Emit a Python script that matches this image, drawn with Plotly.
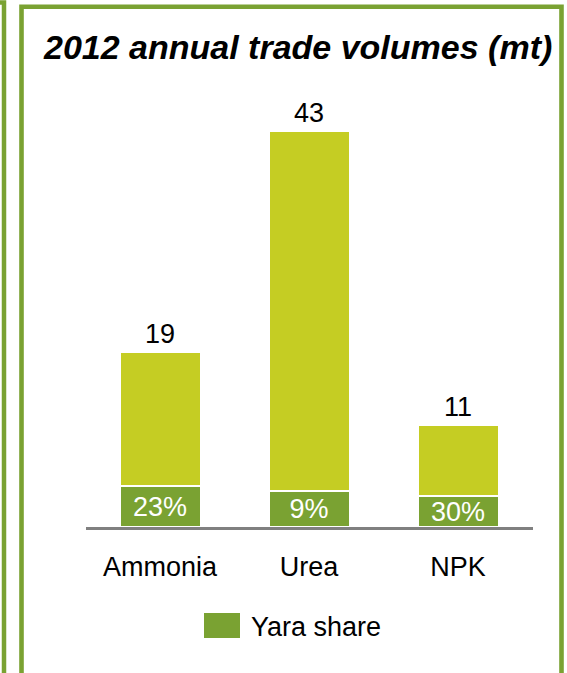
import plotly.graph_objects as go

# ---- data ----
categories = ["Ammonia", "Urea", "NPK"]
total_volumes = [19, 43, 11]          # mt, 2012 annual trade volumes
yara_share_pct = [23, 9, 30]          # Yara share, %

yara_volumes = [t * s / 100 for t, s in zip(total_volumes, yara_share_pct)]
rest_volumes = [t - y for t, y in zip(total_volumes, yara_volumes)]

# ---- styling ----
W, H = 567, 673
DARK_GREEN = "#7AA232"
LIME = "#C5CD23"
FONT = "Liberation Sans, Arial, sans-serif"

def px(x):
    return x / W

def py(y):
    return 1 - y / H

fig = go.Figure()

fig.add_trace(go.Bar(
    x=categories, y=yara_volumes, name="Yara share",
    marker=dict(color=DARK_GREEN, line=dict(color="white", width=2)),
    text=[f"{s}%" for s in yara_share_pct],
    textposition="inside", insidetextanchor="middle",
    constraintext="none",
    textfont=dict(color="white", size=27, family=FONT),
    width=0.55, cliponaxis=False, showlegend=False,
))
fig.add_trace(go.Bar(
    x=categories, y=rest_volumes, name="Total",
    marker=dict(color=LIME, line=dict(color="white", width=2)),
    text=[str(t) for t in total_volumes],
    textposition="outside", constraintext="none",
    outsidetextfont=dict(color="black", size=27, family=FONT),
    width=0.55, cliponaxis=False, showlegend=False,
))

shapes = [
    # left neighbour panel border
    dict(type="rect", xref="paper", yref="paper",
         x0=px(-100), x1=px(4), y0=py(2.5), y1=py(720),
         line=dict(color=DARK_GREEN, width=4.5), layer="above"),
    # main panel border
    dict(type="rect", xref="paper", yref="paper",
         x0=px(21.5), x1=px(561.5), y0=py(6.8), y1=py(720),
         line=dict(color=DARK_GREEN, width=4.6), layer="above"),
    # legend swatch
    dict(type="rect", xref="paper", yref="paper",
         x0=px(204), x1=px(240), y0=py(613), y1=py(638),
         fillcolor=DARK_GREEN, line=dict(width=0)),
]

annotations = [
    dict(text="2012 annual trade volumes (mt)", xref="paper", yref="paper",
         x=px(41), y=py(47), xanchor="left", yanchor="middle", showarrow=False,
         font=dict(family=FONT, size=34, color="black", weight="bold", style="italic")),
    dict(text="Yara share", xref="paper", yref="paper",
         x=px(249), y=py(627), xanchor="left", yanchor="middle", showarrow=False,
         font=dict(family=FONT, size=27, color="black")),
]

fig.update_layout(
    width=W, height=H, autosize=False,
    margin=dict(l=0, r=0, t=0, b=0, pad=0),
    paper_bgcolor="white", plot_bgcolor="white",
    barmode="stack", bargap=0,
    showlegend=False,
    shapes=shapes, annotations=annotations,
    xaxis=dict(
        domain=[px(85.5), px(532.5)], range=[-0.5, 2.5],
        showline=True, linecolor="#808080", linewidth=3,
        showgrid=False, zeroline=False, ticks="",
        tickfont=dict(family=FONT, size=27, color="black"),
        ticklabelstandoff=14,
    ),
    yaxis=dict(
        domain=[py(527), py(527 - 48 * 9.2)], range=[0, 48],
        visible=False, showgrid=False, zeroline=False,
    ),
)

fig.write_html("out.html")
